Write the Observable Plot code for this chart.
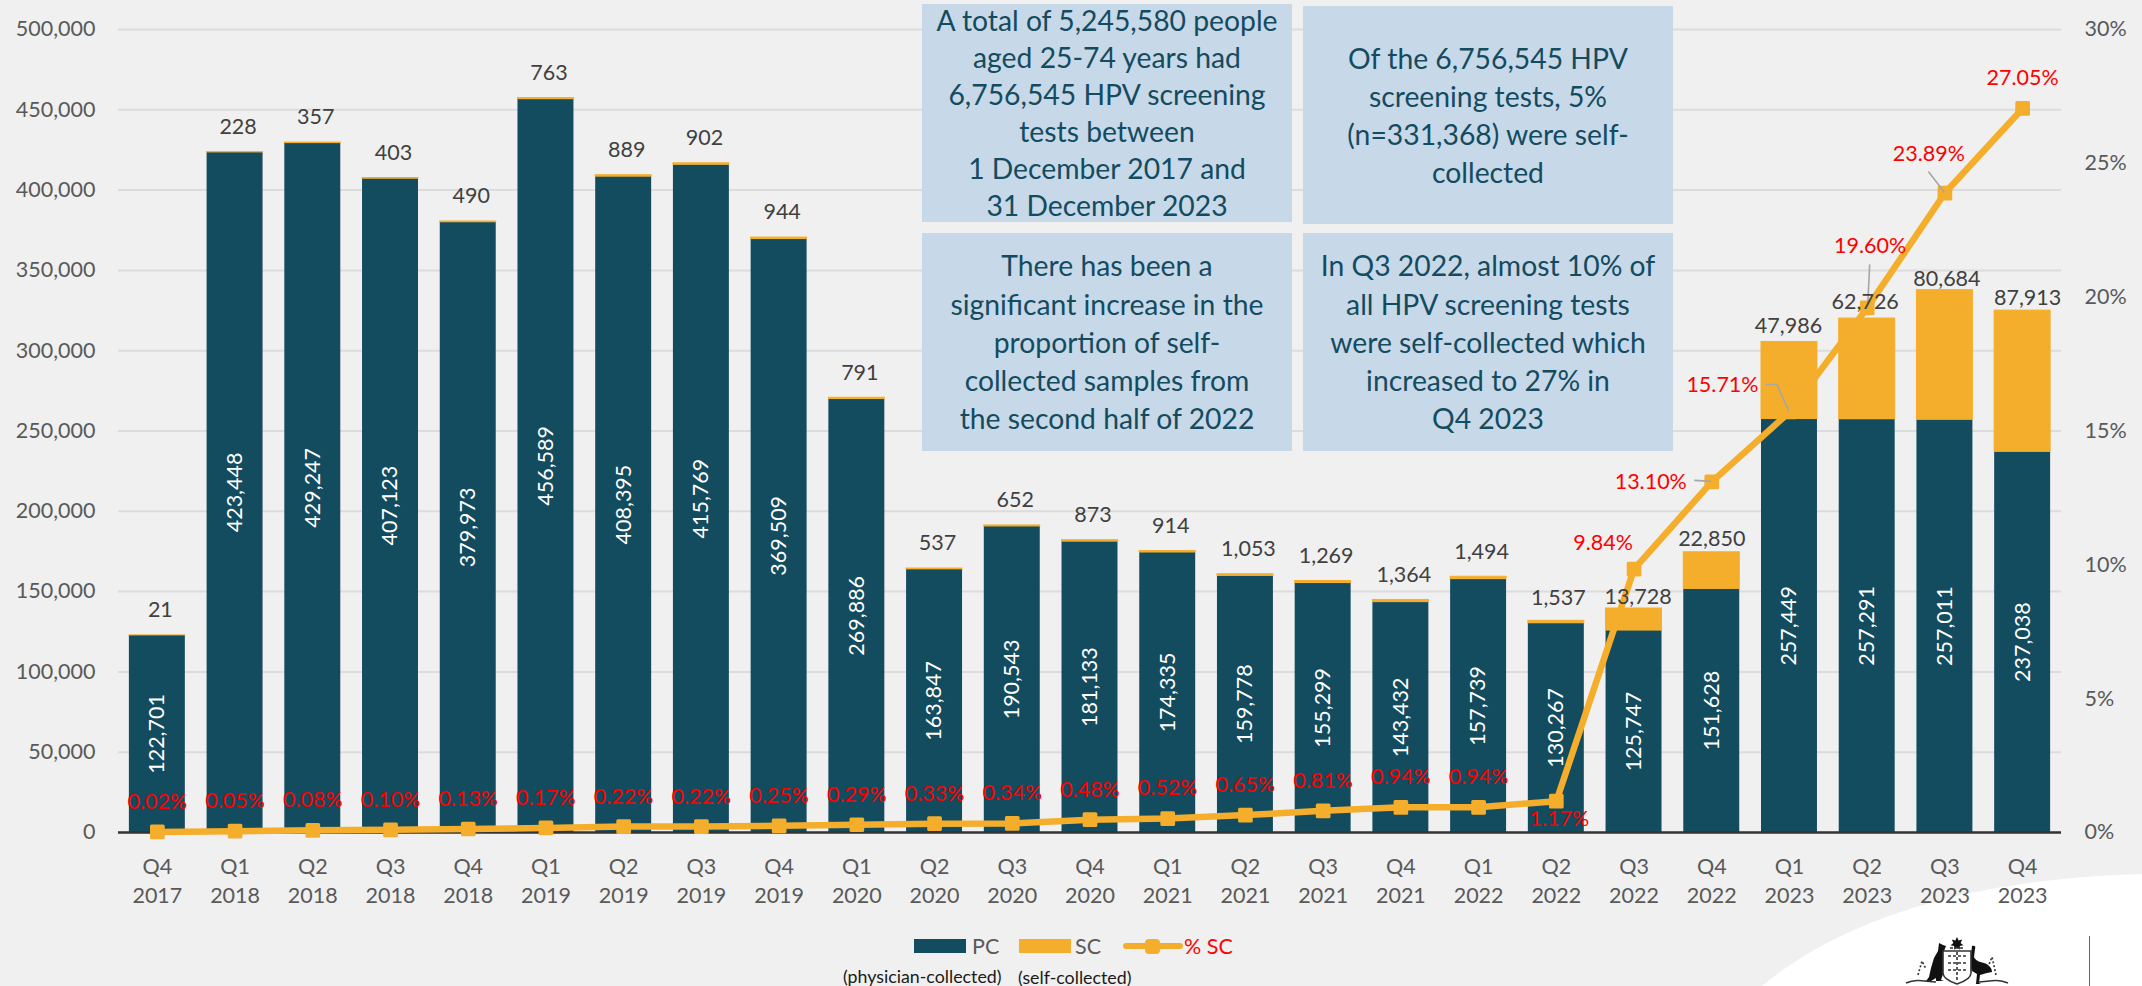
<!DOCTYPE html>
<html>
<head>
<meta charset="utf-8">
<script src="https://cdn.jsdelivr.net/npm/d3@7"></script>
<script src="https://cdn.jsdelivr.net/npm/@observablehq/plot@0.6"></script>
<style>
html,body{margin:0;padding:0;background:#f0f0f0;width:2142px;height:986px;overflow:hidden;font-family:Lato,"Open Sans",sans-serif}
#deco,#chart,#boxes,#legend{position:absolute;left:0;top:0}
#chart svg{background:transparent;display:block}
.box{position:absolute;background:#c7d8e8;color:#134b5f;display:flex;align-items:center;justify-content:center;text-align:center;font-size:28.3px;box-sizing:border-box;white-space:pre-line}
.lg{position:absolute;white-space:nowrap}
</style>
</head>
<body>
<svg id="deco" width="2142" height="986">
  <path d="M1762,986 C1820,938 1930,880 2142,874 L2142,986 Z" fill="#ffffff"/>
  <g fill="#111">
    <path d="M1957,937 l1.6,3.4 3.6,-.8 -1.6,3.3 2.8,2.3 -3.6,.8 0,3.7 -2.8,-2.3 -2.8,2.3 0,-3.7 -3.6,-.8 2.8,-2.3 -1.6,-3.3 3.6,.8 z"/>
    <path d="M1939,943 l4,2 3,1 -2,5 -1,8 1,12 -3,9 3,1 -8,0 0,-3 -5,3 -5,0 3,-4 2,-9 3,-10 4,-7 z"/>
    <path d="M1972,946 c3,-1 4,1 3,3 l-1,8 c1,3 5,5 10,6 6,2 8,6 8,9 l-5,1 -7,2 -1,8 2,1 -5,0 1,-10 -5,-3 -2,-6 z"/>
  </g>
  <g fill="none" stroke="#333" stroke-width="1.6">
    <path d="M1943,951 h28 v22 c0,6 -8,9 -14,11 c-6,-2 -14,-5 -14,-11 z" fill="#fff"/>
    <path d="M1948,956 h18 M1948,963 h18 M1948,970 h18 M1957,952 v28" stroke-dasharray="3 2"/>
    <path d="M1906,983 c12,-5 20,-1 30,-1 M2008,983 c-12,-5 -20,-1 -30,-1" />
    <path d="M1918,975 l4,-14 4,8 M1996,975 l-4,-18 -4,10" stroke-dasharray="2 2"/>
    <path d="M1950,948 h14" stroke-dasharray="3 2"/>
  </g>
  <rect x="2089" y="936" width="1" height="50" fill="#666"/>
</svg>
<div id="chart"></div>
<div id="boxes"></div>
<div id="legend"></div>
<script>
const categories = ["Q4 2017","Q1 2018","Q2 2018","Q3 2018","Q4 2018","Q1 2019","Q2 2019","Q3 2019","Q4 2019","Q1 2020","Q2 2020","Q3 2020","Q4 2020","Q1 2021","Q2 2021","Q3 2021","Q4 2021","Q1 2022","Q2 2022","Q3 2022","Q4 2022","Q1 2023","Q2 2023","Q3 2023","Q4 2023"];
const pcValues = [122701,423448,429247,407123,379973,456589,408395,415769,369509,269886,163847,190543,181133,174335,159778,155299,143432,157739,130267,125747,151628,257449,257291,257011,237038];
const scValues = [21,228,357,403,490,763,889,902,944,791,537,652,873,914,1053,1269,1364,1494,1537,13728,22850,47986,62726,80684,87913];
const pctValues = [0.02,0.05,0.08,0.10,0.13,0.17,0.22,0.22,0.25,0.29,0.33,0.34,0.48,0.52,0.65,0.81,0.94,0.94,1.17,9.84,13.10,15.71,19.60,23.89,27.05];
const leftTicks = [0,50000,100000,150000,200000,250000,300000,350000,400000,450000,500000];
const rightTicks = [0,5,10,15,20,25,30];
const notes = [
  "A total of 5,245,580 people\naged 25-74 years had\n6,756,545 HPV screening\ntests between\n1 December 2017 and\n31 December 2023",
  "Of the 6,756,545 HPV\nscreening tests, 5%\n(n=331,368) were self-\ncollected",
  "There has been a\nsignificant increase in the\nproportion of self-\ncollected samples from\nthe second half of 2022",
  "In Q3 2022, almost 10% of\nall HPV screening tests\nwere self-collected which\nincreased to 27% in\nQ4 2023"
];
// Label nudges in pixels [dx, dy], kept apart from the values.
const scNudgeDefault = [3,-25];
const scNudges = {"Q2 2022":[2,-23],"Q3 2022":[4,-11],"Q4 2022":[0,-13],"Q1 2023":[-1,-16],"Q2 2023":[-2,-16],"Q3 2023":[2,-11],"Q4 2023":[5,-13]};
const pctNudgeDefault = [0,-30];
const pctNudges = {"Q2 2022":[3,18],"Q3 2022":[-31,-26],"Q4 2022":[-61,0],"Q1 2023":[-67,-27],"Q2 2023":[3,-62],"Q3 2023":[-16,-39],"Q4 2023":[0,-30]};
const leaders = {"Q4 2022":[[-17,-1],[0,0]],"Q1 2023":[[-23,-27],[-12,-27],[0,0]],"Q2 2023":[[3,-43],[1,-2]],"Q3 2023":[[-16,-21],[0,0]]};

const navy="#134b5f", gold="#f4ae2c", axisGrey="#595959", labelGrey="#404040", red="#ff0000";
const FS=21.5;
const secondary = p => p*500000/30;
const rows = categories.map((c,i)=>({c,pc:pcValues[i],sc:scValues[i],pct:pctValues[i]}));
const fmt = d3.format(",");

const scLabelMarks = rows.map(r=>{
  const [dx,dy]=scNudges[r.c]||scNudgeDefault;
  return Plot.text([r],{x:"c",y:d=>d.pc+d.sc,text:d=>fmt(d.sc),dx,dy,fill:labelGrey,fontSize:FS});
});
const pctLabelMarks = rows.map(r=>{
  const [dx,dy]=pctNudges[r.c]||pctNudgeDefault;
  return Plot.text([r],{x:"c",y:d=>secondary(d.pct),text:d=>d.pct.toFixed(2)+"%",dx,dy,fill:red,fontSize:FS});
});
const leaderMark = (index,scales)=>{
  const g=d3.create("svg:g").attr("fill","none").attr("stroke","#a6a6a6").attr("stroke-width",1.6);
  const bw=typeof scales.x.bandwidth==="function"?scales.x.bandwidth():scales.x.bandwidth;
  for(const r of rows){
    const pts=leaders[r.c]; if(!pts) continue;
    const px=scales.x(r.c)+bw/2, py=scales.y(secondary(r.pct));
    g.append("path").attr("d",d3.line()(pts.map(([a,b])=>[px+a,py+b])));
  }
  return g.node();
};

const chart = Plot.plot({
  width:2142,height:986,marginLeft:118,marginRight:81,marginTop:29,marginBottom:154,
  style:{background:"transparent",fontFamily:"Lato, 'Open Sans', sans-serif",fontSize:FS+"px",overflow:"visible"},
  x:{type:"band",domain:categories,paddingInner:0.28,paddingOuter:0.14,round:false,label:null},
  y:{domain:[0,500000],label:null},
  marks:[
    Plot.gridY(leftTicks,{stroke:"#dcdcdc",strokeOpacity:1,strokeWidth:2}),
    Plot.axisY({ticks:leftTicks,tickFormat:d=>fmt(d),tickSize:0,tickPadding:23,fontSize:FS,color:axisGrey,label:null}),
    Plot.axisY({anchor:"right",ticks:rightTicks.map(secondary),tickFormat:d=>Math.round(d*30/500000)+"%",tickSize:0,tickPadding:23,fontSize:FS,color:axisGrey,label:null}),
    Plot.axisX({tickFormat:d=>d.replace(" ","\n"),tickSize:0,tickPadding:21,lineHeight:1.35,fontSize:FS,color:axisGrey,label:null}),
    Plot.barY(rows,{x:"c",y1:0,y2:"pc",fill:navy}),
    Plot.barY(rows,{x:"c",y1:"pc",y2:d=>d.pc+d.sc,fill:gold,stroke:gold,strokeWidth:1}),
    Plot.ruleY([0],{stroke:"#333333",strokeWidth:2.5}),
    Plot.text(rows,{x:"c",y:d=>d.pc/2,text:d=>fmt(d.pc),rotate:-90,fill:"#ffffff",fontSize:FS}),
    Plot.line(rows,{x:"c",y:d=>secondary(d.pct),stroke:gold,strokeWidth:6.5}),
    Plot.dot(rows,{x:"c",y:d=>secondary(d.pct),symbol:"square",r:6.6,fill:gold,stroke:gold,strokeWidth:3,strokeLinejoin:"round"}),
    leaderMark,
    ...scLabelMarks,
    ...pctLabelMarks
  ]
});
document.getElementById("chart").appendChild(chart);

const boxFrames=[[922,4,370,218],[1303,6,370,218],[922,233,370,218],[1303,233,370,218]];
const lineHeights=[37,38,38.3,38.3];
const boxes=document.getElementById("boxes");
notes.forEach((t,i)=>{
  const [l,tp,w,h]=boxFrames[i];
  const d=document.createElement("div");d.className="box";
  d.style.cssText=`left:${l}px;top:${tp}px;width:${w}px;height:${h}px;line-height:${lineHeights[i]}px`;
  d.textContent=t;boxes.appendChild(d);
});
const legend=document.getElementById("legend");
legend.innerHTML=`
<div class="lg" style="left:914px;top:939px;width:52px;height:14px;background:${navy}"></div>
<div class="lg" style="left:972px;top:932px;font-size:${FS}px;line-height:28px;color:${axisGrey}">PC</div>
<div class="lg" style="left:1019px;top:939px;width:52px;height:14px;background:${gold}"></div>
<div class="lg" style="left:1075px;top:932px;font-size:${FS}px;line-height:28px;color:${axisGrey}">SC</div>
<svg class="lg" style="left:1122px;top:934px" width="62" height="24"><path d="M4,12H58" stroke="${gold}" stroke-width="6" stroke-linecap="round"/><rect x="23" y="5" width="15" height="15" rx="4" fill="${gold}"/></svg>
<div class="lg" style="left:1184px;top:932px;font-size:${FS}px;line-height:28px;color:${red}">% SC</div>
<div class="lg" style="left:843px;top:965px;font-size:17.8px;line-height:22px;color:#1a1a1a">(physician-collected)</div>
<div class="lg" style="left:1018px;top:966px;font-size:17.8px;line-height:22px;color:#1a1a1a">(self-collected)</div>`;
</script>
</body>
</html>
